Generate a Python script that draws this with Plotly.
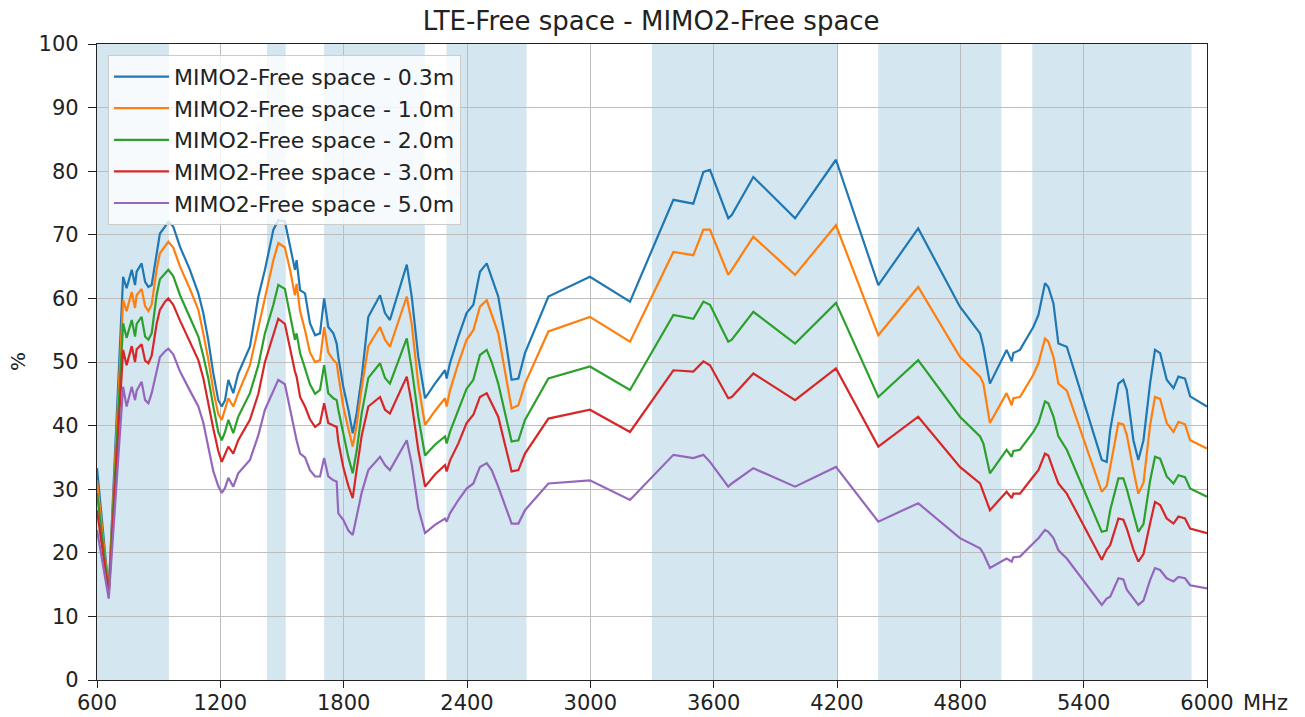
import plotly.graph_objects as go

freq = [600, 657, 727, 744, 769, 785, 793, 817, 834, 850, 866, 890, 906, 931, 947, 971, 1004, 1052, 1093,
        1117, 1141, 1166, 1190, 1207, 1223, 1239, 1263, 1287, 1344, 1385, 1417, 1458, 1482, 1514, 1539,
        1563, 1571, 1588, 1612, 1636, 1661, 1685, 1705, 1725, 1750, 1766, 1774, 1798, 1823, 1844, 1863,
        1888, 1920, 1977, 2001, 2025, 2107, 2131, 2163, 2196, 2244, 2293, 2301, 2317, 2358, 2398, 2431,
        2463, 2496, 2520, 2552, 2585, 2617, 2650, 2682, 2796, 2998, 3193, 3404, 3501, 3550, 3582, 3671,
        3688, 3793, 3996, 4195, 4401, 4595, 4798, 4896, 4912, 4944, 5025, 5050, 5058, 5090, 5155, 5180,
        5212, 5228, 5253, 5277, 5318, 5488, 5512, 5529, 5569, 5593, 5610, 5642, 5666, 5691, 5723, 5747,
        5772, 5804, 5837, 5861, 5893, 5918, 6000]

d03 = [33.3, 14.0, 63.4, 61.6, 64.5, 62.1, 64.2, 65.5, 62.6, 61.8, 62.1, 67.1, 70.2, 71.3, 72.1, 71.3, 68.1, 64.5, 60.8,
       57.7, 53.5, 48.2, 44.0, 43.0, 44.0, 47.2, 45.1, 48.2, 52.4, 60.3, 64.5, 70.8, 72.3, 72.1, 68.1,
       64.5, 66.0, 61.3, 60.8, 56.1, 54.2, 54.5, 60.0, 55.5, 54.5, 52.9, 50.8, 46.1, 42.5, 38.8, 41.9,
       47.7, 57.1, 60.5, 57.7, 56.6, 65.3, 60.3, 50.8, 44.3, 46.6, 48.7, 47.4, 49.8, 54.0, 57.7, 59.0,
       64.2, 65.5, 63.4, 60.3, 54.0, 47.2, 47.4, 51.4, 60.3, 63.4, 59.5, 75.5, 74.9, 79.9, 80.2, 72.6,
       73.1, 79.1, 72.6, 81.8, 62.1, 71.0, 58.7, 54.5, 52.4, 46.6, 51.9, 50.1, 51.4, 51.9, 55.5, 57.4,
       62.4, 61.8, 59.2, 52.9, 52.4, 34.6, 34.3, 39.3, 46.6, 47.2, 45.6, 37.7, 34.6, 37.7, 46.6, 51.9,
       51.4, 47.2, 45.9, 47.7, 47.4, 44.6, 43.0]

d10 = [31.4, 13.8, 59.7, 58.0, 61.0, 58.5, 60.5, 61.5, 58.8, 58.0, 59.0, 64.5, 67.1, 68.3, 68.9, 68.0, 65.0, 61.5, 58.2,
       54.5, 50.5, 45.5, 41.8, 40.9, 42.5, 44.3, 43.0, 45.1, 49.5, 55.5, 60.5, 66.0, 68.7, 68.0, 64.5,
       60.5, 62.3, 58.0, 55.0, 51.5, 50.0, 50.3, 55.5, 51.5, 50.3, 49.8, 48.0, 43.0, 39.5, 36.7, 40.0,
       46.0, 52.5, 55.5, 53.5, 52.4, 60.3, 56.0, 46.5, 40.1, 42.3, 44.3, 43.0, 45.5, 49.8, 53.5, 55.0,
       58.7, 59.7, 57.5, 54.5, 48.5, 42.7, 43.2, 46.6, 54.8, 57.1, 53.2, 67.3, 66.8, 70.8, 70.8, 63.7,
       64.5, 69.7, 63.7, 71.5, 54.2, 61.8, 50.8, 47.7, 46.6, 40.4, 45.1, 43.2, 44.3, 44.5, 48.0, 49.8,
       53.7, 53.2, 50.8, 46.6, 45.5, 29.6, 30.5, 33.5, 40.4, 40.2, 38.5, 33.0, 29.3, 31.0, 40.0, 44.5,
       44.2, 40.4, 39.0, 40.6, 40.2, 37.7, 36.4]

d20 = [29.4, 13.6, 56.1, 53.8, 56.6, 54.0, 56.0, 57.1, 54.0, 53.5, 54.5, 60.5, 63.0, 64.0, 64.5, 63.5, 60.5, 57.0, 54.0,
       51.0, 47.5, 43.0, 39.0, 37.7, 39.0, 40.9, 38.8, 41.4, 45.1, 49.5, 54.5, 59.0, 62.1, 61.5, 57.5,
       53.5, 54.5, 51.4, 49.0, 46.5, 45.0, 45.6, 49.5, 45.1, 44.3, 44.0, 42.5, 38.8, 35.0, 32.5, 36.0,
       42.0, 47.5, 49.8, 47.5, 46.6, 53.7, 49.0, 41.4, 35.3, 37.0, 38.3, 37.2, 39.0, 42.5, 45.8, 47.2,
       51.1, 51.9, 50.0, 46.6, 42.0, 37.5, 37.7, 40.9, 47.4, 49.3, 45.6, 57.4, 56.8, 59.5, 59.0, 53.2,
       53.5, 57.9, 52.9, 59.3, 44.5, 50.3, 41.4, 38.3, 37.2, 32.5, 36.2, 35.1, 36.0, 36.2, 39.0, 40.4,
       43.8, 43.5, 41.4, 38.3, 36.2, 23.3, 23.5, 26.7, 31.7, 31.7, 30.0, 26.0, 23.3, 24.5, 31.3, 35.1,
       34.8, 32.0, 30.9, 32.2, 31.9, 30.1, 28.8]

d30 = [26.7, 13.4, 51.9, 49.5, 52.5, 50.0, 52.0, 52.8, 50.2, 49.8, 51.0, 56.0, 58.2, 59.5, 60.0, 59.0, 56.5, 53.0, 50.3,
       47.5, 43.5, 39.5, 36.0, 34.3, 35.5, 36.7, 35.6, 37.7, 40.9, 45.0, 50.0, 54.5, 56.8, 56.0, 52.0,
       48.5, 47.7, 44.5, 43.0, 41.0, 39.8, 40.4, 43.5, 40.4, 40.0, 39.8, 37.5, 33.5, 30.5, 28.6, 33.0,
       38.5, 43.0, 44.5, 42.5, 41.9, 47.7, 43.5, 36.2, 30.4, 32.3, 33.8, 32.8, 34.5, 37.2, 40.4, 41.7,
       44.5, 45.1, 43.5, 41.4, 37.0, 32.8, 33.0, 35.6, 41.1, 42.5, 39.0, 48.7, 48.5, 50.1, 49.5, 44.3,
       44.5, 48.2, 44.0, 49.0, 36.7, 41.4, 33.5, 30.9, 29.5, 26.7, 29.6, 28.6, 29.3, 29.3, 32.0, 33.0,
       35.6, 35.3, 33.0, 30.9, 29.3, 18.9, 20.5, 21.2, 25.4, 25.2, 23.8, 20.5, 18.6, 19.8, 24.6, 28.0,
       27.5, 25.4, 24.6, 25.7, 25.4, 23.8, 23.1]

d50 = [23.6, 12.8, 46.1, 43.0, 46.1, 44.0, 45.5, 46.9, 44.0, 43.5, 45.1, 48.5, 50.8, 51.7, 52.1, 51.2, 48.5, 45.5, 43.0,
       40.5, 36.5, 32.8, 30.5, 29.4, 30.2, 31.8, 30.4, 32.5, 34.6, 38.5, 42.5, 45.5, 47.2, 46.5, 42.5,
       38.5, 37.7, 35.6, 35.0, 33.0, 32.0, 32.0, 34.9, 32.0, 31.4, 31.2, 26.2, 25.2, 23.5, 22.8, 25.5,
       29.5, 33.0, 35.1, 33.8, 33.0, 37.7, 34.0, 27.0, 23.1, 24.4, 25.4, 24.9, 26.2, 28.3, 30.1, 30.9,
       33.5, 34.1, 33.0, 30.4, 27.5, 24.6, 24.6, 26.7, 30.9, 31.4, 28.3, 35.4, 34.9, 35.4, 34.3, 30.4,
       30.9, 33.3, 30.4, 33.5, 24.9, 27.8, 22.3, 20.7, 19.9, 17.6, 19.1, 18.6, 19.3, 19.4, 21.5, 22.3,
       23.6, 23.3, 22.3, 20.4, 19.1, 11.8, 12.8, 13.1, 16.0, 15.8, 14.2, 12.8, 11.8, 12.5, 15.7, 17.6,
       17.3, 16.0, 15.5, 16.2, 16.0, 14.9, 14.4]

series_names = ["MIMO2-Free space - 0.3m", "MIMO2-Free space - 1.0m", "MIMO2-Free space - 2.0m",
                "MIMO2-Free space - 3.0m", "MIMO2-Free space - 5.0m"]
series_values = [d03, d10, d20, d30, d50]
colors = ["#1f77b4", "#ff7f0e", "#2ca02c", "#d62728", "#9467bd"]

band_start = [600, 1427, 1705, 2300, 3300, 4400, 5150]
band_end = [950, 1518, 2195, 2690, 4200, 5000, 5925]

x_ticks = [600, 1200, 1800, 2400, 3000, 3600, 4200, 4800, 5400, 6000]
x_ticktext = ["600", "1200", "1800", "2400", "3000", "3600", "4200", "4800", "5400", "6000"]
y_ticks = [0, 10, 20, 30, 40, 50, 60, 70, 80, 90, 100]

FONT = "DejaVu Sans"
W, H = 1305, 717
fig = go.Figure()

for s, e in zip(band_start, band_end):
    fig.add_shape(type="rect", xref="x", yref="paper", x0=s, x1=e, y0=0, y1=1,
                  fillcolor="rgb(212,230,239)", line=dict(width=0), layer="below")

for i, (name, vals, c) in enumerate(zip(series_names, series_values, colors)):
    fig.add_trace(go.Scatter(x=freq, y=vals, mode="lines", name=name, legendgroup=f"g{i}",
                             line=dict(color=c, width=2.2)))

axis_common = dict(showline=True, mirror=True, linecolor="#222", linewidth=1.3,
                   showgrid=True, gridcolor="#bdbdbd", gridwidth=1.4,
                   ticks="outside", tickwidth=1.3, tickcolor="#222",
                   tickfont=dict(family=FONT, size=21, color="#222"), zeroline=False,
                   automargin=False)

fig.update_layout(
    width=W, height=H,
    margin=dict(l=97, r=98, t=44, b=37),
    paper_bgcolor="white", plot_bgcolor="white",
    title=dict(text="LTE-Free space - MIMO2-Free space", x=0.499, xanchor="center",
               y=1 - 21 / H, yanchor="middle", yref="container",
               font=dict(family=FONT, size=26, color="#222")),
    xaxis=dict(range=[600, 6000], tickvals=x_ticks, ticktext=x_ticktext, ticklen=7,
               ticklabelstandoff=-3, **axis_common),
    yaxis=dict(range=[0, 100], tickvals=y_ticks, ticklen=8, ticklabelstandoff=5, **axis_common),
    legend=dict(x=0.0099, y=0.983, xanchor="left", yanchor="top",
                bgcolor="rgba(255,255,255,0.8)", bordercolor="#cccccc", borderwidth=1,
                font=dict(family=FONT, size=22, color="#222"), tracegroupgap=0,
                itemwidth=55),
    showlegend=True,
)

fig.add_annotation(text="MHz", xref="x", yref="paper", x=6000, y=0, xanchor="left", yanchor="middle",
                   xshift=34, yshift=-23, showarrow=False, font=dict(family=FONT, size=21, color="#222"))
fig.add_annotation(text="%", xref="paper", yref="paper", x=(18 - 97) / 1110, y=0.5, xanchor="center",
                   yanchor="middle", textangle=-90, showarrow=False,
                   font=dict(family=FONT, size=20, color="#222"))

# remove the browser's default 8px body margin so the figure sits at the page origin
fig.write_html("out.html", config={"displayModeBar": False},
               post_script="document.body.style.margin='0px';")
